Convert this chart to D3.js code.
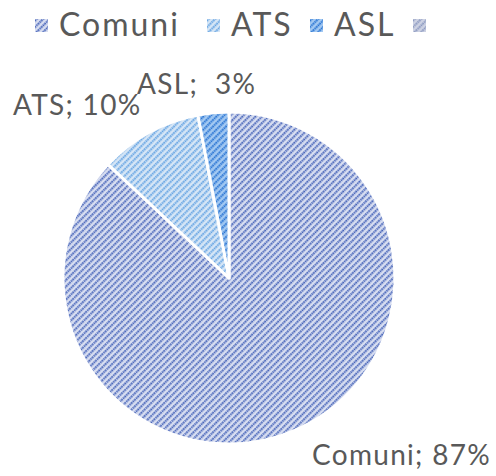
<!DOCTYPE html>
<html>
<head>
<meta charset="utf-8">
<script src="https://cdn.jsdelivr.net/npm/d3@7"></script>
<style>
  body { margin: 0; background: #fff; }
  text { font-family: "Lato", "DejaVu Sans", sans-serif; fill: #595959; }
</style>
</head>
<body>
<div id="chart"></div>
<script>
// data
var categories = ["Comuni", "ATS", "ASL"];
var values = [87, 10, 3];
var legendNames = ["Comuni", "ATS", "ASL", ""];

var width = 496, height = 476;
var cx = 229, cy = 278, radius = 166;

// pattern colours: background + stripe
var fills = [
  {bg: "#d8def1", fg: "#4462b8"},
  {bg: "#d6e6f6", fg: "#62a2e2"},
  {bg: "#a3c9f2", fg: "#2672d2"},
  {bg: "#cdd2e3", fg: "#8a98c0"}
];

var svg = d3.select("#chart")
  .append("svg")
    .attr("width", width)
    .attr("height", height);

var defs = svg.append("defs");
fills.forEach(function(f, i) {
  var p = defs.append("pattern")
    .attr("id", "pat" + i)
    .attr("patternUnits", "userSpaceOnUse")
    .attr("width", 4.6)
    .attr("height", 4.6)
    .attr("patternTransform", "rotate(45)");
  p.append("rect").attr("width", 4.6).attr("height", 4.6).attr("fill", f.bg);
  p.append("line")
    .attr("x1", 1.2).attr("x2", 1.2)
    .attr("y1", 0).attr("y2", 4.6)
    .attr("stroke", f.fg)
    .attr("stroke-width", 2)
    .attr("stroke-dasharray", "1.6,0.7");
});

var pie = d3.pie().sort(null).value(function(d) { return d; });
var arc = d3.arc().innerRadius(0).outerRadius(radius);

var g = svg.append("g").attr("transform", "translate(" + cx + "," + cy + ")");

g.selectAll("path")
  .data(pie(values))
  .enter()
  .append("path")
    .attr("d", arc)
    .attr("fill", function(d, i) { return "url(#pat" + i + ")"; })
    .attr("stroke", "#fff")
    .attr("stroke-width", 3)
    .attr("stroke-linejoin", "round");

// data labels
var labelPos = [
  {x: 312, y: 465},
  {x: 13, y: 115},
  {x: 137, y: 94}
];
svg.selectAll(".lbl")
  .data(categories)
  .enter()
  .append("text")
    .attr("class", "lbl")
    .attr("x", function(d, i) { return labelPos[i].x; })
    .attr("y", function(d, i) { return labelPos[i].y; })
    .attr("font-size", 28)
    .attr("letter-spacing", 1.3)
    .attr("xml:space", "preserve")
    .text(function(d, i) { return d + ";" + (i == 2 ? "  " : " ") + values[i] + "%"; });

// legend
var legX = [35, 207, 310, 413];
var leg = svg.selectAll(".leg")
  .data(legendNames)
  .enter()
  .append("g")
    .attr("class", "leg")
    .attr("transform", function(d, i) { return "translate(" + legX[i] + ",19)"; });
leg.append("rect")
  .attr("width", 13).attr("height", 13)
  .attr("fill", function(d, i) { return "url(#pat" + i + ")"; });
leg.append("text")
  .attr("x", 24)
  .attr("y", 17)
  .attr("font-size", 32)
  .attr("letter-spacing", 2)
  .text(function(d) { return d; });
</script>
</body>
</html>
